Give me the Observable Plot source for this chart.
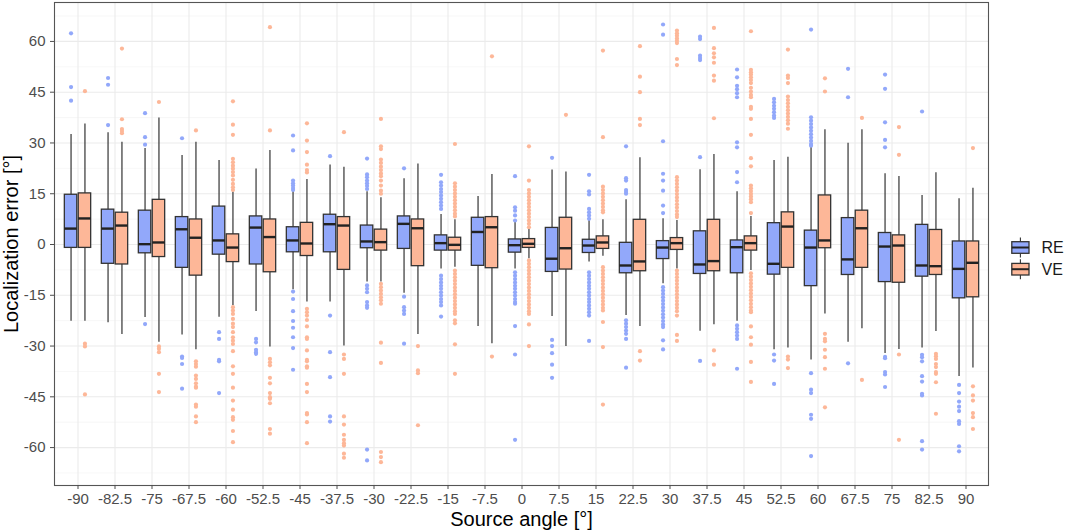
<!DOCTYPE html>
<html>
<head>
<meta charset="utf-8">
<script src="https://cdn.jsdelivr.net/npm/d3@7"></script>
<script src="https://cdn.jsdelivr.net/npm/@observablehq/plot@0.6"></script>
<style>
  html, body { margin: 0; padding: 0; background: #fff; }
  #wrap { position: relative; width: 1065px; height: 532px; font-family: "Liberation Sans", Arial, sans-serif; }
</style>
</head>
<body>
<div id="wrap"></div>
<script>
// ---- Data ----
const angles = ["-90","-82.5","-75","-67.5","-60","-52.5","-45","-37.5","-30","-22.5","-15","-7.5","0","7.5","15","22.5","30","37.5","45","52.5","60","67.5","75","82.5","90"];
const groups = ["RE", "VE"];

// RE box statistics
const reLo  = [-22.7,-23.1,-21.6,-26.7,-21.5,-19.8,-13.4,-17.0,-11.1,-14.4,-7.2,-24.2,-7.2,-21.3,-5.2,-21.0,-11.6,-25.6,-22.7,-31.1,-34.1,-28.9,-32.2,-30.6,-39.0];
const reQ1  = [-1.0,-5.7,-2.6,-6.9,-3.0,-5.9,-2.3,-2.3,-1.1,-1.3,-1.8,-6.3,-2.4,-8.1,-2.5,-8.5,-4.3,-8.7,-8.5,-8.9,-12.3,-9.0,-11.1,-9.5,-15.9];
const reMed = [4.7,4.7,0.1,4.5,1.2,5.0,1.2,6.0,0.9,6.1,0.4,3.7,-0.2,-4.2,-0.3,-6.2,-0.9,-5.9,-0.8,-5.7,-0.9,-4.4,-0.6,-6.2,-7.2];
const reQ3  = [14.7,10.3,10.0,8.1,11.2,8.3,5.1,8.8,5.6,8.3,2.7,7.9,1.5,4.9,1.4,0.5,1.0,3.9,1.2,6.3,4.1,7.8,3.4,5.8,0.9];
const reHi  = [32.5,33.0,28.4,26.3,24.8,22.3,16.4,23.5,15.6,19.4,8.9,14.2,6.6,22.0,7.1,13.2,7.6,22.1,15.6,24.8,28.7,29.9,20.9,14.5,13.5];

// VE box statistics
const veLo  = [-22.7,-26.6,-28.9,-31.1,-18.0,-30.3,-17.0,-30.0,-11.1,-26.6,-6.7,-29.3,-4.2,-30.1,-3.5,-24.2,-7.2,-23.7,-7.7,-30.6,-20.5,-24.9,-31.0,-25.7,-36.5];
const veQ1  = [-1.0,-5.9,-3.7,-9.2,-5.2,-8.2,-3.4,-7.5,-1.8,-6.4,-1.8,-7.0,-1.0,-7.4,-1.3,-7.9,-1.6,-7.9,-1.8,-6.9,-1.1,-6.9,-11.3,-9.0,-15.6];
const veMed = [7.7,5.6,0.6,2.0,-0.9,2.2,0.3,5.6,0.7,4.8,-0.1,5.1,0.2,-1.1,0.6,-5.0,0.4,-4.9,0.4,5.3,1.2,4.8,-0.3,-6.4,-5.4];
const veQ3  = [15.1,9.4,13.2,7.4,3.0,7.4,6.4,8.1,4.4,7.4,2.0,8.1,1.6,7.9,2.4,7.3,1.9,7.3,2.4,9.5,14.5,10.0,2.7,4.3,0.9];
const veHi  = [35.6,30.2,37.4,30.2,15.5,27.8,19.2,22.8,13.8,23.8,7.3,20.7,4.9,21.4,7.3,25.6,7.1,26.6,8.3,25.8,33.9,33.9,20.1,21.2,16.6];

// Outliers per angle
const reOut = [
  [62.4,46.5,42.5],
  [49.2,47.2,35.3],
  [38.8,31.7,29.5,-23.5],
  [31.4,-33.1,-33.5,-35.3,-42.6],
  [-25.9,-27.9,-34.1,-34.5,-43.9],
  [-27.9,-28.9,-31.1,-31.8,-32.3],
  [32.2,27.8,18.9,18.1,17.4,16.7,16.1,-13.9,-16.1,-19.7,-22.6,-24.6,-27.4,-30.6,-37.0],
  [26.1,-21.0,-31.8,-39.2,-50.8,-52.3],
  [25.4,20.7,19.9,18.9,18.1,17.3,16.4,-12.1,-13.1,-14.1,-17.0,-18.0,-18.7,-60.6,-63.8],
  [22.5,-15.4,-18.5,-19.5,-20.5,-29.3],
  [20.6,18.4,17.4,16.4,15.5,14.5,13.5,12.5,11.5,10.5,-9.2,-10.2,-11.2,-12.2,-13.1,-14.1,-15.1,-16.1,-17.0,-18.0,-21.3],
  [],
  [20.2,11.0,10.0,8.6,7.1,-8.2,-9.2,-10.2,-11.2,-12.2,-13.1,-14.1,-15.1,-16.1,-17.0,-17.5,-24.1,-32.5,-57.7],
  [25.6,-28.2,-30.0,-32.1,-35.5,-39.4],
  [20.6,15.7,14.8,10.5,9.5,8.6,7.6,-8.2,-9.2,-10.2,-11.2,-12.2,-13.1,-14.1,-15.1,-16.1,-17.0,-18.0,-19.0,-20.0,-21.0,-28.5],
  [29.0,19.6,18.9,16.1,15.5,15.0,-22.4,-23.4,-24.4,-25.4,-26.4,-27.9,-36.4],
  [65.0,62.0,30.5,20.9,18.9,15.9,11.5,9.3,-12.6,-13.6,-14.6,-15.6,-16.6,-17.6,-18.6,-19.6,-20.6,-21.6,-22.6,-23.6,-24.4,-28.3,-31.0],
  [61.4,60.7,55.8,55.1,54.5,25.8,-34.4],
  [51.7,49.4,46.9,45.9,44.7,43.5,30.2,28.7,21.4,18.4,-23.9,-24.9,-25.9,-26.9,-27.9,-36.7],
  [43.0,42.0,41.0,40.1,39.1,38.1,37.4,-32.5,-34.3,-41.2],
  [63.5,37.6,36.6,35.6,34.6,33.6,32.6,31.6,30.6,29.7,29.2,-38.0,-42.9,-43.9,-50.3,-51.5,-62.5],
  [51.9,43.5,-35.1],
  [50.2,46.0,36.1,30.9,28.7,-33.2,-33.6,-37.7,-38.4,-42.1],
  [39.3,-32.6,-33.3,-34.5,-38.9,-40.5,-44.1,-44.6,-58.1,-60.6],
  [-41.5,-43.9,-46.4,-47.9,-49.2,-52.2,-53.0,-59.6,-61.1]
];
const veOut = [
  [45.3,-29.3,-30.1,-44.3],
  [57.9,37.0,34.1,33.5,32.9],
  [42.1,-30.1,-30.8,-31.8,-38.2,-43.6],
  [33.7,-34.5,-35.3,-36.1,-38.7,-39.7,-41.0,-42.0,-42.3,-47.3,-47.9,-50.8,-52.5],
  [42.3,35.4,32.4,25.3,24.3,23.3,22.4,21.4,20.4,19.1,17.9,16.9,16.1,-18.5,-19.5,-20.5,-22.0,-23.4,-24.4,-25.9,-27.4,-28.4,-29.4,-31.5,-36.0,-38.2,-42.3,-46.1,-48.8,-51.0,-51.8,-55.1,-58.4],
  [64.2,33.7,-33.8,-34.8,-35.7,-39.4,-41.0,-43.9,-45.1,-45.6,-46.9,-54.5,-55.9],
  [35.8,30.7,27.3,23.6,22.0,21.3,-19.0,-20.0,-21.0,-22.3,-24.2,-27.4,-27.9,-31.3,-34.1,-34.5,-36.0,-36.4,-41.2,-43.6,-49.8,-50.2,-52.5,-58.7],
  [33.2,-32.5,-33.8,-38.2,-50.8,-53.2,-56.2,-57.7,-58.7,-59.4,-61.8,-63.0],
  [37.1,29.0,28.2,25.1,24.1,23.0,22.0,21.0,20.2,18.9,17.4,15.9,15.0,-11.6,-12.6,-13.6,-14.6,-15.6,-16.5,-17.5,-29.0,-35.0,-61.3,-62.8,-64.3],
  [-30.0,-37.2,-38.0,-53.4],
  [29.7,18.1,17.1,16.1,15.1,14.1,13.1,12.1,11.1,10.1,9.1,8.3,-7.7,-8.7,-9.7,-10.7,-11.7,-12.7,-13.7,-14.7,-15.7,-16.7,-17.7,-18.7,-19.7,-20.5,-22.4,-23.3,-29.5,-38.2],
  [55.6,-33.1],
  [29.0,18.9,16.1,15.1,14.1,13.1,12.1,11.1,10.1,9.1,8.1,7.1,6.1,5.1,-4.7,-5.7,-6.7,-7.7,-8.7,-9.7,-10.7,-11.7,-12.7,-13.7,-14.7,-15.7,-16.7,-17.7,-18.7,-19.7,-20.5,-23.6,-30.0],
  [38.3],
  [57.3,31.7,17.1,16.1,15.1,14.1,13.1,12.1,11.1,10.1,9.5,-6.7,-7.7,-8.7,-9.7,-10.7,-11.7,-12.7,-13.7,-14.7,-15.7,-16.7,-17.7,-18.7,-19.5,-22.9,-30.3,-47.3],
  [58.6,49.6,45.0,37.1,35.3,-31.5,-34.3],
  [63.2,62.4,61.7,60.9,60.2,59.5,54.8,53.0,19.9,18.9,17.9,16.9,15.9,14.9,13.9,12.9,11.9,10.9,9.9,8.9,8.1,-7.7,-8.7,-9.7,-10.7,-11.7,-12.7,-13.7,-14.7,-15.7,-16.7,-17.7,-18.7,-19.7,-21.0,-26.7,-28.5],
  [64.0,58.0,56.5,55.3,53.7,49.9,48.4,37.3,-31.3,-35.5],
  [63.0,51.6,50.9,50.2,49.4,48.6,47.7,46.3,45.2,44.2,43.5,40.7,40.1,37.1,32.4,25.5,23.1,17.4,16.6,15.8,15.0,14.2,13.4,12.5,9.3,-8.5,-9.5,-10.5,-11.5,-12.5,-13.5,-14.5,-15.5,-16.5,-17.5,-18.5,-19.5,-20.0,-24.2,-27.4,-29.6,-34.7,-40.6],
  [57.6,49.9,49.2,47.7,43.7,42.7,41.7,40.7,39.7,38.7,37.7,36.7,35.7,34.2,-33.1,-34.0,-36.5],
  [49.1,45.2,-26.4,-27.9,-28.6,-31.1,-33.3,-36.7,-48.1],
  [37.4,-40.0],
  [34.7,26.5,-32.5,-57.7],
  [-32.3,-33.0,-33.8,-35.3,-36.2,-37.7,-38.2,-40.7,-50.0],
  [28.5,-41.9,-44.6,-46.1,-49.8,-51.0,-54.5]
];

// Axis ticks
const yTicks = [-60,-45,-30,-15,0,15,30,45,60];
const yMinor = [-67.5,-52.5,-37.5,-22.5,-7.5,7.5,22.5,37.5,52.5,67.5];

// ---- Styles ----
const colors = {RE: "#92A8FA", VE: "#FDB798"};
const offset = {RE: -6.95, VE: 6.95};
const boxInset = 12.28;

// ---- Build tables ----
const boxes = [];
angles.forEach((a, i) => {
  boxes.push({angle: a, group: "RE", lo: reLo[i], q1: reQ1[i], med: reMed[i], q3: reQ3[i], hi: reHi[i]});
  boxes.push({angle: a, group: "VE", lo: veLo[i], q1: veQ1[i], med: veMed[i], q3: veQ3[i], hi: veHi[i]});
});
const outliers = [];
angles.forEach((a, i) => {
  reOut[i].forEach(v => outliers.push({angle: a, group: "RE", v}));
  veOut[i].forEach(v => outliers.push({angle: a, group: "VE", v}));
});

function groupMarks(g) {
  const b = boxes.filter(d => d.group === g);
  const o = outliers.filter(d => d.group === g);
  return [
    Plot.ruleX(b, {x: "angle", y1: "lo", y2: "hi", dx: offset[g], stroke: "#333", strokeWidth: 1.2}),
    Plot.barY(b, {x: "angle", y1: "q1", y2: "q3", dx: offset[g], insetLeft: boxInset, insetRight: boxInset, fill: colors[g], stroke: "#333", strokeWidth: 1.3}),
    Plot.tickY(b, {x: "angle", y: "med", dx: offset[g], insetLeft: boxInset, insetRight: boxInset, stroke: "#222", strokeWidth: 2.4}),
    Plot.dot(o, {x: "angle", y: "v", dx: offset[g], r: 2.1, fill: colors[g], stroke: "none"})
  ];
}

const chart = Plot.plot({
  width: 1065,
  height: 532,
  marginLeft: 54,
  marginRight: 77,
  marginTop: 2,
  marginBottom: 47,
  style: {fontFamily: "'Liberation Sans', Arial, sans-serif", background: "#fff"},
  x: {type: "band", domain: angles, paddingInner: 0, paddingOuter: 0.1},
  y: {domain: [-71.2, 71.5]},
  marks: [
    Plot.ruleY(yMinor, {stroke: "#f2f2f2", strokeWidth: 0.6}),
    Plot.ruleY(yTicks, {stroke: "#ebebeb", strokeWidth: 1.1}),
    Plot.ruleX(angles, {x: d => d, stroke: "#ebebeb", strokeWidth: 1.1}),
    ...groupMarks("RE"),
    ...groupMarks("VE"),
    Plot.frame({stroke: "#555", strokeWidth: 1.1}),
    Plot.axisY({ticks: yTicks, tickFormat: d => String(d), tickSize: 4, tickPadding: 5, fontSize: 15, color: "#4d4d4d", label: null}),
    Plot.axisX({tickSize: 4, tickPadding: 4, fontSize: 15, color: "#4d4d4d", label: null}),
    Plot.text(["Localization error [°]"], {frameAnchor: "left", textAnchor: "middle", rotate: -90, dx: -43, fontSize: 20, fill: "#000", lineAnchor: "middle"}),
    Plot.text(["Source angle [°]"], {frameAnchor: "bottom", textAnchor: "middle", dy: 34, fontSize: 20, fill: "#000", lineAnchor: "middle"})
  ]
});

const wrap = document.getElementById("wrap");
wrap.appendChild(chart);

// Legend
const ns = "http://www.w3.org/2000/svg";
const leg = document.createElementNS(ns, "svg");
leg.setAttribute("width", 65);
leg.setAttribute("height", 60);
leg.style.position = "absolute";
leg.style.left = "1000px";
leg.style.top = "228px";
groups.forEach((g, i) => {
  const cy = 19.5 + i * 21.7;
  const line = document.createElementNS(ns, "line");
  line.setAttribute("x1", 20.4); line.setAttribute("x2", 20.4);
  line.setAttribute("y1", cy - 10); line.setAttribute("y2", cy + 10);
  line.setAttribute("stroke", "#333"); line.setAttribute("stroke-width", 1.1);
  leg.appendChild(line);
  const r = document.createElementNS(ns, "rect");
  r.setAttribute("x", 11.8); r.setAttribute("y", cy - 5.8);
  r.setAttribute("width", 17.2); r.setAttribute("height", 11.6);
  r.setAttribute("fill", colors[g]); r.setAttribute("stroke", "#333"); r.setAttribute("stroke-width", 1.3);
  leg.appendChild(r);
  const m = document.createElementNS(ns, "line");
  m.setAttribute("x1", 11.8); m.setAttribute("x2", 29);
  m.setAttribute("y1", cy); m.setAttribute("y2", cy);
  m.setAttribute("stroke", "#222"); m.setAttribute("stroke-width", 2);
  leg.appendChild(m);
  const t = document.createElementNS(ns, "text");
  t.setAttribute("x", 41.5); t.setAttribute("y", cy);
  t.setAttribute("dominant-baseline", "central");
  t.setAttribute("font-size", 16);
  t.setAttribute("font-family", "'Liberation Sans', Arial, sans-serif");
  t.setAttribute("fill", "#1a1a1a");
  t.textContent = g;
  leg.appendChild(t);
});
wrap.appendChild(leg);
</script>
</body>
</html>
